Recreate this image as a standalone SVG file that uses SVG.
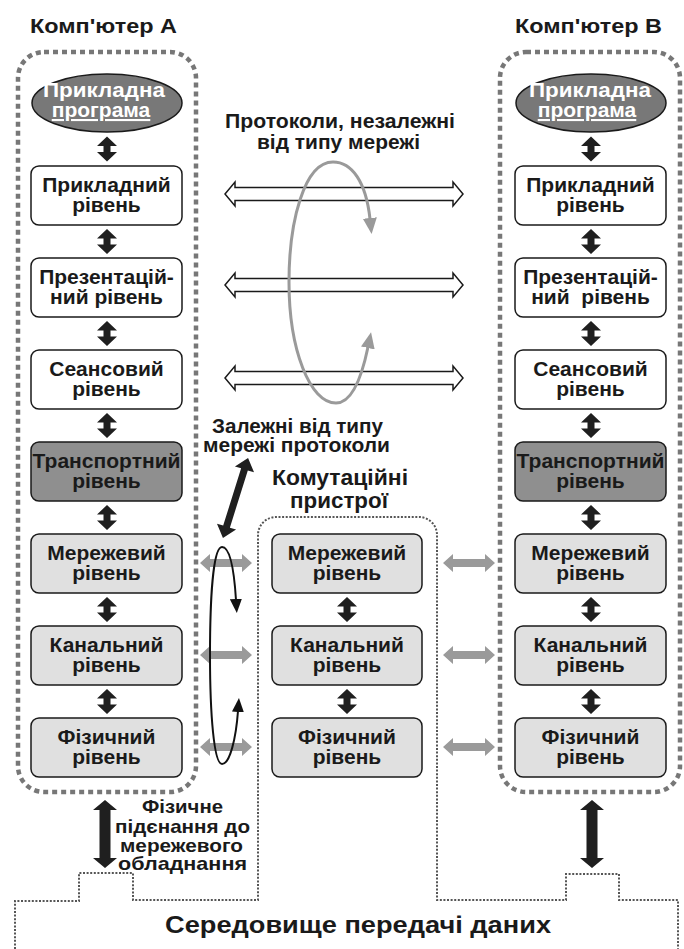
<svg xmlns="http://www.w3.org/2000/svg" xmlns:xlink="http://www.w3.org/1999/xlink" width="684" height="949" viewBox="0 0 684 949">
  <style>
    text { font-family: "Liberation Sans", Arial, sans-serif; font-weight: bold; fill: #1a1a1a; text-anchor: middle; }
    .t21 { font-size: 21px; }
    .t20 { font-size: 20px; }
    .t19 { font-size: 19px; }
    .white { fill: #ffffff; }
    .host { fill: none; stroke: #777777; stroke-width: 4.5; stroke-dasharray: 5 4; }
    .medium { fill: none; stroke: #555555; stroke-width: 2; stroke-dasharray: 2 1.6; }
    .layer { stroke: #1a1a1a; stroke-width: 1.5; }
    .app { fill: #ffffff; }
    .trans { fill: #8f8f8f; }
    .net { fill: #e0e0e0; }
    .blk { fill: #1f1f1f; }
    .gry { fill: #9a9a9a; }
    .hollow { fill: #ffffff; stroke: #1a1a1a; stroke-width: 1.5; stroke-linejoin: miter; }
  </style>
  <defs>
    <!-- short vertical double arrow between stacked layers -->
    <path id="vdbl" d="M0,-12.5 L10,-3 L3.5,-3 L3.5,3 L10,3 L0,12.5 L-10,3 L-3.5,3 L-3.5,-3 L-10,-3 Z"/>
    <!-- grey peer-to-peer arrow between lower layers -->
    <path id="hgry" d="M0,0 L10,-9 L10,-4 L42,-4 L42,-9 L52,0 L42,9 L42,4 L10,4 L10,9 Z"/>
    <!-- hollow peer-to-peer arrow between upper layers -->
    <path id="hhol" d="M0,0 L10,-12 L10,-6.5 L228,-6.5 L228,-12 L238,0 L228,12 L228,6.5 L10,6.5 L10,12 Z"/>
    <!-- thick vertical arrow to the medium -->
    <path id="vbig" d="M0,0 L12,10 L5.5,10 L5.5,58 L12,58 L0,68 L-12,58 L-5.5,58 L-5.5,10 L-12,10 Z"/>
    <marker id="headGray" markerUnits="userSpaceOnUse" markerWidth="16" markerHeight="14" refX="1" refY="7" orient="auto-start-reverse" viewBox="0 0 16 14">
      <path d="M0,0 L16,7 L0,14 Z" fill="#9a9a9a"/>
    </marker>
    <marker id="headBlack" markerUnits="userSpaceOnUse" markerWidth="14" markerHeight="12" refX="1" refY="6" orient="auto-start-reverse" viewBox="0 0 14 12">
      <path d="M0,0 L14,6 L0,12 Z" fill="#111111"/>
    </marker>
  </defs>

  <!-- host and medium outlines -->
  <g id="host-a-frame">
    <rect class="host" x="18" y="52" width="178" height="740" rx="26"/>
    <text class="t21" x="103.5" y="33" textLength="147" lengthAdjust="spacingAndGlyphs">Комп'ютер А</text>
  </g>
  <g id="host-b-frame">
    <rect class="host" x="500" y="52" width="180" height="740" rx="26"/>
    <text class="t21" x="588.5" y="33" textLength="147" lengthAdjust="spacingAndGlyphs">Комп'ютер В</text>
  </g>
  <g id="medium">
    <path class="medium" d="M15,949 V901 H79 V873 H133 V900 H258 V535 A18,18 0 0 1 276,517 H419 A18,18 0 0 1 437,535 V900 H566 V874 H619 V900 H678 V949"/>
    <text style="font-size:22px" x="340" y="485" textLength="136" lengthAdjust="spacingAndGlyphs">Комутаційні</text>
    <text style="font-size:22px" x="339" y="508" textLength="98" lengthAdjust="spacingAndGlyphs">пристрої</text>
    <text style="font-size:24px" x="358" y="933" textLength="386" lengthAdjust="spacingAndGlyphs">Середовище передачі даних</text>
  </g>

  <!-- computer A -->
  <g id="a-app">
    <ellipse cx="107" cy="103" rx="75" ry="29" fill="#787878" stroke="#1a1a1a" stroke-width="1.5"/>
    <text class="t21 white" x="104" y="97" textLength="122" lengthAdjust="spacingAndGlyphs">Прикладна</text>
    <text class="t21 white" x="101" y="117" text-decoration="underline">програма</text>
  </g>
  <g id="a-l7"><rect class="layer app" x="31" y="166" width="151" height="59" rx="8"/><text class="t21" x="106.5" y="192">Прикладний</text><text class="t21" x="106.5" y="212">рівень</text></g>
  <g id="a-l6"><rect class="layer app" x="31" y="258" width="151" height="59" rx="8"/><text class="t21" x="106.5" y="284">Презентацій-</text><text class="t21" x="106.5" y="304">ний рівень</text></g>
  <g id="a-l5"><rect class="layer app" x="31" y="350" width="151" height="59" rx="8"/><text class="t21" x="106.5" y="376">Сеансовий</text><text class="t21" x="106.5" y="396">рівень</text></g>
  <g id="a-l4"><rect class="layer trans" x="31" y="442" width="151" height="59" rx="8"/><text class="t21" x="106.5" y="468" textLength="148" lengthAdjust="spacingAndGlyphs">Транспортний</text><text class="t21" x="106.5" y="488">рівень</text></g>
  <g id="a-l3"><rect class="layer net" x="31" y="534" width="151" height="59" rx="8"/><text class="t21" x="106.5" y="560">Мережевий</text><text class="t21" x="106.5" y="580">рівень</text></g>
  <g id="a-l2"><rect class="layer net" x="31" y="626" width="151" height="59" rx="8"/><text class="t21" x="106.5" y="652">Канальний</text><text class="t21" x="106.5" y="672">рівень</text></g>
  <g id="a-l1"><rect class="layer net" x="31" y="718" width="151" height="59" rx="8"/><text class="t21" x="106.5" y="744">Фізичний</text><text class="t21" x="106.5" y="764">рівень</text></g>

  <!-- switching devices -->
  <g id="s-l3"><rect class="layer net" x="272" y="534" width="150" height="59" rx="8"/><text class="t21" x="347" y="560">Мережевий</text><text class="t21" x="347" y="580">рівень</text></g>
  <g id="s-l2"><rect class="layer net" x="272" y="626" width="150" height="59" rx="8"/><text class="t21" x="347" y="652">Канальний</text><text class="t21" x="347" y="672">рівень</text></g>
  <g id="s-l1"><rect class="layer net" x="272" y="718" width="150" height="59" rx="8"/><text class="t21" x="347" y="744">Фізичний</text><text class="t21" x="347" y="764">рівень</text></g>

  <!-- computer B -->
  <g id="b-app">
    <ellipse cx="591" cy="103" rx="75" ry="29" fill="#787878" stroke="#1a1a1a" stroke-width="1.5"/>
    <text class="t21 white" x="590" y="97" textLength="122" lengthAdjust="spacingAndGlyphs">Прикладна</text>
    <text class="t21 white" x="587" y="117" text-decoration="underline">програма</text>
  </g>
  <g id="b-l7"><rect class="layer app" x="515" y="166" width="151" height="59" rx="8"/><text class="t21" x="590.5" y="192">Прикладний</text><text class="t21" x="590.5" y="212">рівень</text></g>
  <g id="b-l6"><rect class="layer app" x="515" y="258" width="151" height="59" rx="8"/><text class="t21" x="590.5" y="284">Презентацій-</text><text class="t21" x="590.5" y="304" xml:space="preserve">ний  рівень</text></g>
  <g id="b-l5"><rect class="layer app" x="515" y="350" width="151" height="59" rx="8"/><text class="t21" x="590.5" y="376">Сеансовий</text><text class="t21" x="590.5" y="396">рівень</text></g>
  <g id="b-l4"><rect class="layer trans" x="515" y="442" width="151" height="59" rx="8"/><text class="t21" x="590.5" y="468" textLength="148" lengthAdjust="spacingAndGlyphs">Транспортний</text><text class="t21" x="590.5" y="488">рівень</text></g>
  <g id="b-l3"><rect class="layer net" x="515" y="534" width="151" height="59" rx="8"/><text class="t21" x="590.5" y="560">Мережевий</text><text class="t21" x="590.5" y="580">рівень</text></g>
  <g id="b-l2"><rect class="layer net" x="515" y="626" width="151" height="59" rx="8"/><text class="t21" x="590.5" y="652">Канальний</text><text class="t21" x="590.5" y="672">рівень</text></g>
  <g id="b-l1"><rect class="layer net" x="515" y="718" width="151" height="59" rx="8"/><text class="t21" x="590.5" y="744">Фізичний</text><text class="t21" x="590.5" y="764">рівень</text></g>

  <!-- free labels -->
  <g id="labels">
    <text class="t21" x="340" y="128" textLength="230" lengthAdjust="spacingAndGlyphs">Протоколи, незалежні</text>
    <text class="t21" x="338.5" y="149" textLength="163" lengthAdjust="spacingAndGlyphs">від типу мережі</text>
    <text class="t20" x="297.5" y="433" textLength="171" lengthAdjust="spacingAndGlyphs">Залежні від типу</text>
    <text class="t20" x="296.5" y="452" textLength="187" lengthAdjust="spacingAndGlyphs">мережі протоколи</text>
    <text class="t19" x="182.5" y="813" textLength="81" lengthAdjust="spacingAndGlyphs">Фізичне</text>
    <text class="t19" x="182.5" y="833" textLength="135" lengthAdjust="spacingAndGlyphs">підєнання до</text>
    <text class="t19" x="181.5" y="852" textLength="123" lengthAdjust="spacingAndGlyphs">мережевого</text>
    <text class="t19" x="182.5" y="870" textLength="129" lengthAdjust="spacingAndGlyphs">обладнання</text>
  </g>

  <!-- connectors -->
  <g id="connectors">
    <!-- stack links, computer A -->
    <use xlink:href="#vdbl" class="blk" x="107" y="149"/>
    <use xlink:href="#vdbl" class="blk" x="107" y="241.5"/>
    <use xlink:href="#vdbl" class="blk" x="107" y="333.5"/>
    <use xlink:href="#vdbl" class="blk" x="107" y="425.5"/>
    <use xlink:href="#vdbl" class="blk" x="107" y="517.5"/>
    <use xlink:href="#vdbl" class="blk" x="107" y="609.5"/>
    <use xlink:href="#vdbl" class="blk" x="107" y="701.5"/>
    <!-- stack links, computer B -->
    <use xlink:href="#vdbl" class="blk" x="591" y="149"/>
    <use xlink:href="#vdbl" class="blk" x="591" y="241.5"/>
    <use xlink:href="#vdbl" class="blk" x="591" y="333.5"/>
    <use xlink:href="#vdbl" class="blk" x="591" y="425.5"/>
    <use xlink:href="#vdbl" class="blk" x="591" y="517.5"/>
    <use xlink:href="#vdbl" class="blk" x="591" y="609.5"/>
    <use xlink:href="#vdbl" class="blk" x="591" y="701.5"/>
    <!-- stack links, switch -->
    <use xlink:href="#vdbl" class="blk" x="347" y="609.5"/>
    <use xlink:href="#vdbl" class="blk" x="347" y="701.5"/>

    <!-- upper peer protocols -->
    <use xlink:href="#hhol" class="hollow" x="225" y="194"/>
    <use xlink:href="#hhol" class="hollow" x="225" y="285"/>
    <use xlink:href="#hhol" class="hollow" x="225" y="378"/>

    <!-- lower peer protocols -->
    <use xlink:href="#hgry" class="gry" x="200" y="563"/>
    <use xlink:href="#hgry" class="gry" x="200" y="655"/>
    <use xlink:href="#hgry" class="gry" x="200" y="747"/>
    <use xlink:href="#hgry" class="gry" x="443" y="563"/>
    <use xlink:href="#hgry" class="gry" x="443" y="655"/>
    <use xlink:href="#hgry" class="gry" x="443" y="747"/>

    <!-- loop over network-independent layers -->
    <path d="M370,219 C366,182 352,162 333,162 C304,162 289,222 289,282 C289,350 310,403 336,403 C352,403 362,376 368,347" fill="none" stroke="#9a9a9a" stroke-width="3" marker-start="url(#headGray)" marker-end="url(#headGray)"/>
    <!-- loop over network-dependent layers -->
    <path d="M236,600 C234,568 230,547 222,547 C213,547 210,600 210,655 C210,715 214,764 222,764 C230,764 236,738 238,711" fill="none" stroke="#111111" stroke-width="2" marker-start="url(#headBlack)" marker-end="url(#headBlack)"/>

    <!-- diagonal link from label to lower layers -->
    <path class="blk" transform="translate(235.5 498) rotate(-72.6)" d="M-42,0 L-30,-10 L-30,-3.5 L30,-3.5 L30,-10 L42,0 L30,10 L30,3.5 L-30,3.5 L-30,10 Z"/>

    <!-- physical attachment to the medium -->
    <use xlink:href="#vbig" class="blk" x="105" y="800"/>
    <use xlink:href="#vbig" class="blk" x="592" y="800"/>
  </g>
</svg>
